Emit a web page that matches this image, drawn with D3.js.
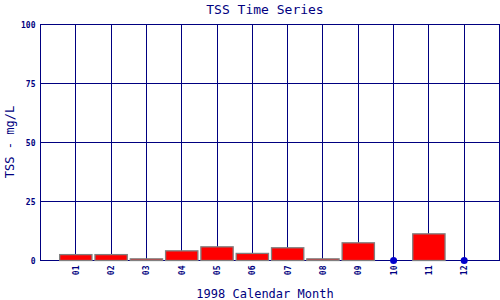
<!DOCTYPE html>
<html>
<head>
<meta charset="utf-8">
<script src="https://cdn.jsdelivr.net/npm/d3@7"></script>
<style>
  body { margin: 0; background: #fff; }
  text { font-family: "DejaVu Sans Mono", monospace; fill: #000080; }
  line, .frame { shape-rendering: crispEdges; }
</style>
</head>
<body>
<svg id="chart" width="500" height="300"></svg>
<script>
const months = ["01","02","03","04","05","06","07","08","09","10","11","12"];
const tss = [2.5, 2.5, 0.7, 4.1, 5.8, 3.0, 5.4, 0.7, 7.5, null, 11.3, null];
const yTicks = [0, 25, 50, 75, 100];

const svg = d3.select("#chart");
const margin = {top: 24, right: 1, bottom: 40, left: 40};
const width = 500 - margin.left - margin.right;
const height = 300 - margin.top - margin.bottom;

const g = svg.append("g")
    .attr("transform", `translate(${margin.left + 0.5},${margin.top + 0.5})`);

const x = d3.scaleLinear().domain([0, months.length + 1]).range([0, width]);
const y = d3.scaleLinear().domain([0, 100]).range([height, 0]);
const step = x(1) - x(0);
const barW = step - 3;

// grid
g.selectAll(".vgrid")
    .data(months)
    .join("line")
    .attr("x1", (d, i) => Math.round(x(i + 1))).attr("x2", (d, i) => Math.round(x(i + 1)))
    .attr("y1", 0).attr("y2", height)
    .attr("stroke", "#000080");

g.selectAll(".hgrid")
    .data(yTicks)
    .join("line")
    .attr("x1", 0).attr("x2", width)
    .attr("y1", d => Math.round(y(d))).attr("y2", d => Math.round(y(d)))
    .attr("stroke", "#000080");

g.append("rect")
    .attr("class", "frame")
    .attr("x", 0).attr("y", 0)
    .attr("width", width).attr("height", height)
    .attr("fill", "none")
    .attr("stroke", "#000080");

// y axis
const yAxis = g.append("g")
    .call(d3.axisLeft(y).tickValues(yTicks).tickSize(0).tickPadding(5));
yAxis.select(".domain").remove();
yAxis.selectAll("text")
    .attr("font-size", 8).attr("font-weight", "bold")
    .style("font-family", "'DejaVu Sans Mono', monospace")
    .attr("fill", "#000080");

// x tick labels
g.selectAll(".xlab")
    .data(months)
    .join("text")
    .attr("transform", (d, i) => `translate(${x(i + 1) + 3},${height + 5}) rotate(-90)`)
    .attr("text-anchor", "end")
    .attr("font-size", 8)
    .attr("font-weight", "bold")
    .text(d => d);

// bars
const data = months.map((m, i) => ({m: m, i: i, v: tss[i]}));
g.selectAll(".bar")
    .data(data.filter(d => d.v !== null))
    .join("rect")
    .attr("x", d => x(d.i + 1) - barW / 2)
    .attr("y", d => y(d.v))
    .attr("width", barW)
    .attr("height", d => y(0) - y(d.v))
    .attr("fill", "#ff0000")
    .attr("stroke", "#808080")
    .attr("stroke-width", 1.3);

// missing values
g.selectAll(".dot")
    .data(data.filter(d => d.v === null))
    .join("circle")
    .attr("cx", d => x(d.i + 1))
    .attr("cy", y(0))
    .attr("r", 3.5)
    .attr("fill", "#0000cc");

// titles
svg.append("text")
    .attr("x", 265).attr("y", 14)
    .attr("text-anchor", "middle")
    .attr("font-size", 13)
    .text("TSS Time Series");

svg.append("text")
    .attr("transform", `translate(14,${margin.top + height / 2}) rotate(-90)`)
    .attr("text-anchor", "middle")
    .attr("font-size", 12)
    .text("TSS - mg/L");

svg.append("text")
    .attr("x", 265).attr("y", 298)
    .attr("text-anchor", "middle")
    .attr("font-size", 12)
    .text("1998 Calendar Month");
</script>
</body>
</html>
